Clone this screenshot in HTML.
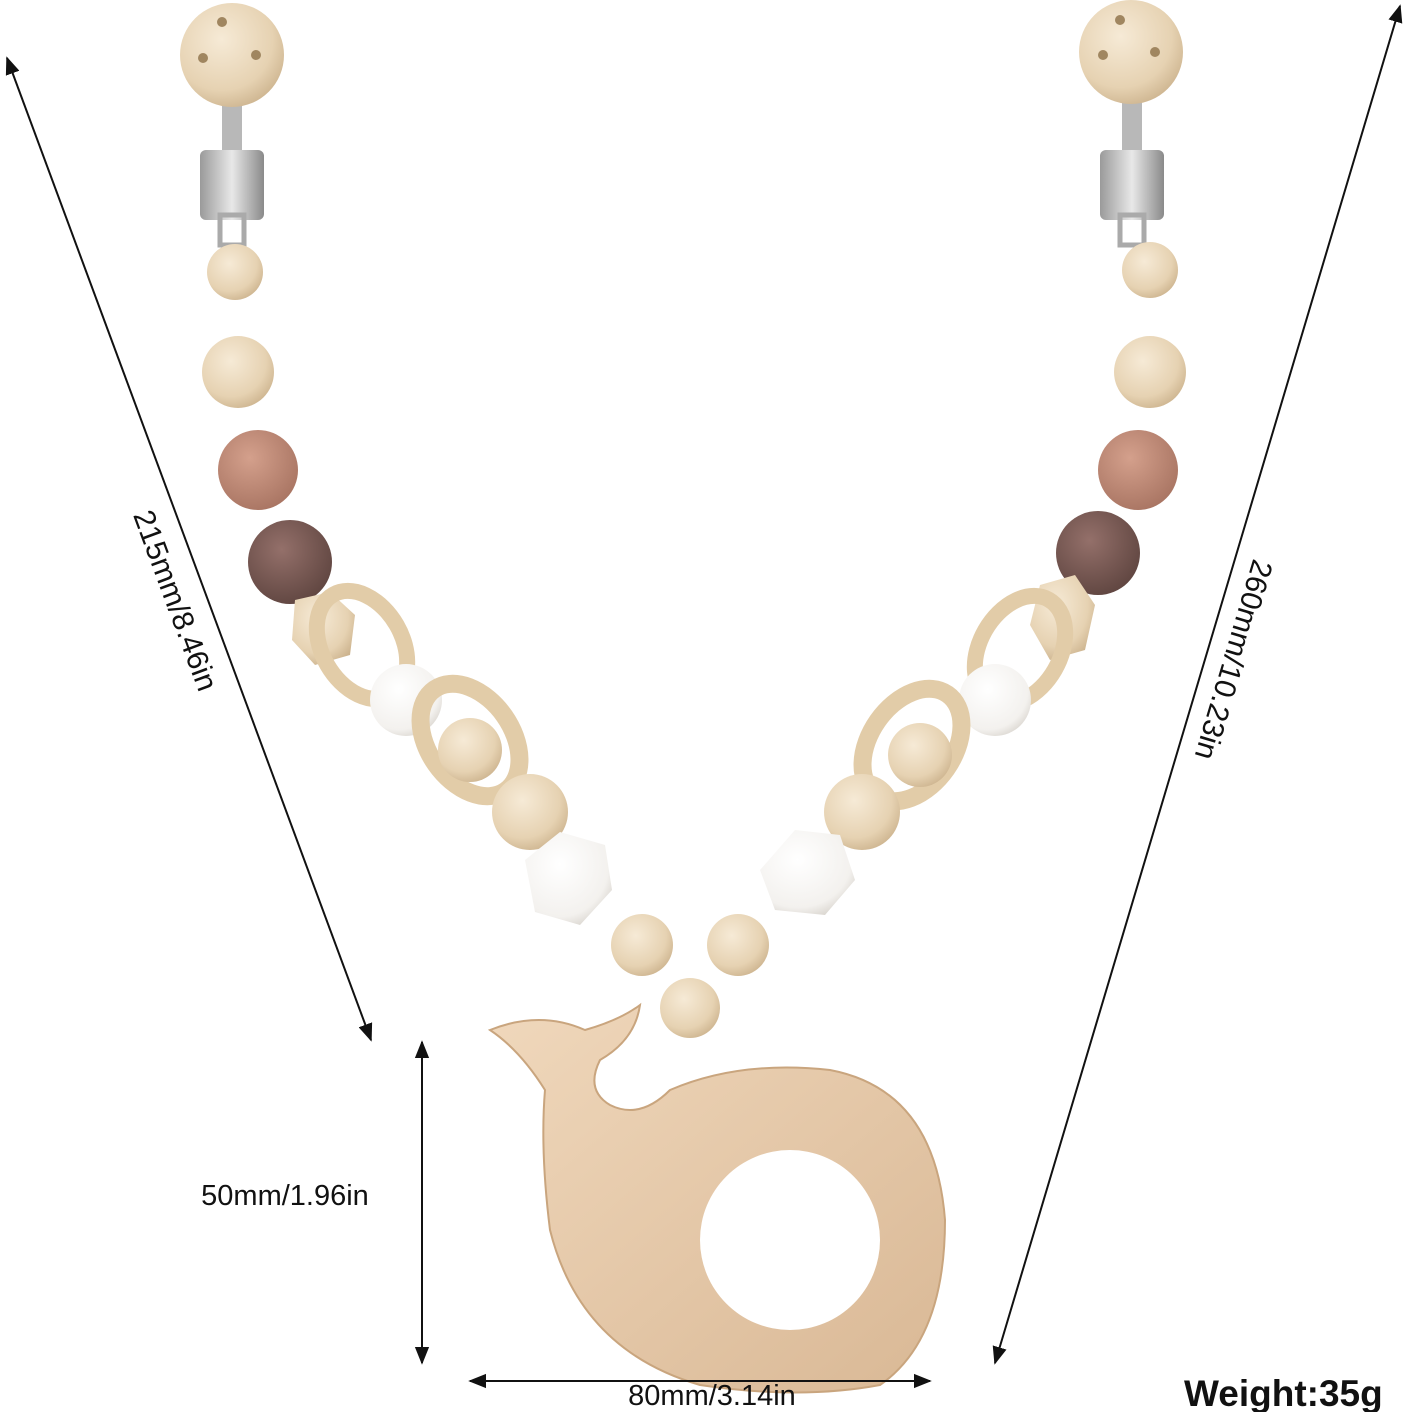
<!DOCTYPE html>
<html><head><meta charset="utf-8"><style>
html,body{margin:0;padding:0;background:#fff;}
svg{display:block;}
text{font-family:"Liberation Sans",sans-serif;fill:#111;}
</style></head><body>
<svg width="1408" height="1412" viewBox="0 0 1408 1412" xmlns="http://www.w3.org/2000/svg">
<defs>
<radialGradient id="wood" cx="40%" cy="35%" r="70%"><stop offset="0" stop-color="#f6ead6"/><stop offset="0.7" stop-color="#e6d2b2"/><stop offset="1" stop-color="#cdb48f"/></radialGradient>
<radialGradient id="white" cx="40%" cy="35%" r="70%"><stop offset="0" stop-color="#ffffff"/><stop offset="0.8" stop-color="#f3f1ee"/><stop offset="1" stop-color="#dcd8d2"/></radialGradient>
<radialGradient id="pink" cx="40%" cy="35%" r="70%"><stop offset="0" stop-color="#d4a08c"/><stop offset="1" stop-color="#a87462"/></radialGradient>
<radialGradient id="brown" cx="40%" cy="35%" r="70%"><stop offset="0" stop-color="#94706a"/><stop offset="1" stop-color="#5f4540"/></radialGradient>
<linearGradient id="metal" x1="0" x2="1"><stop offset="0" stop-color="#9a9a9a"/><stop offset="0.5" stop-color="#e8e8e8"/><stop offset="1" stop-color="#8a8a8a"/></linearGradient>
<linearGradient id="whale" x1="0" y1="0" x2="1" y2="1"><stop offset="0" stop-color="#f0d8bc"/><stop offset="1" stop-color="#d9b895"/></linearGradient>
<marker id="ar" viewBox="0 0 10 10" refX="9" refY="5" markerWidth="9" markerHeight="9" orient="auto-start-reverse"><path d="M0,1 L10,5 L0,9 z" fill="#111"/></marker>
</defs>

<!-- clips -->
<rect x="222" y="100" width="20" height="60" fill="#b8b8b8"/>
<rect x="200" y="150" width="64" height="70" rx="6" fill="url(#metal)"/>
<rect x="220" y="215" width="24" height="30" fill="none" stroke="#aaa" stroke-width="5"/>
<circle cx="232" cy="55" r="52" fill="url(#wood)"/>
<circle cx="222" cy="22" r="5" fill="#a08660"/><circle cx="203" cy="58" r="5" fill="#a08660"/><circle cx="256" cy="55" r="5" fill="#a08660"/>
<rect x="1122" y="100" width="20" height="60" fill="#b8b8b8"/>
<rect x="1100" y="150" width="64" height="70" rx="6" fill="url(#metal)"/>
<rect x="1120" y="215" width="24" height="30" fill="none" stroke="#aaa" stroke-width="5"/>
<circle cx="1131" cy="52" r="52" fill="url(#wood)"/>
<circle cx="1120" cy="20" r="5" fill="#a08660"/><circle cx="1103" cy="55" r="5" fill="#a08660"/><circle cx="1155" cy="52" r="5" fill="#a08660"/>

<!-- left chain -->
<circle cx="235" cy="272" r="28" fill="url(#wood)"/>
<circle cx="238" cy="372" r="36" fill="url(#wood)"/>
<circle cx="258" cy="470" r="40" fill="url(#pink)"/>
<circle cx="290" cy="562" r="42" fill="url(#brown)"/>
<polygon points="295,600 330,592 355,615 350,655 315,665 292,640" fill="url(#wood)"/>
<ellipse cx="362" cy="645" rx="40" ry="58" fill="none" stroke="#e2cca8" stroke-width="16" transform="rotate(-30 362 645)"/>
<circle cx="406" cy="700" r="36" fill="url(#white)"/>
<ellipse cx="470" cy="740" rx="42" ry="62" fill="none" stroke="#e2cca8" stroke-width="18" transform="rotate(-35 470 740)"/>
<circle cx="470" cy="750" r="32" fill="url(#wood)"/>
<circle cx="530" cy="812" r="38" fill="url(#wood)"/>
<polygon points="525,860 560,832 605,845 612,890 580,925 535,912" fill="url(#white)"/>
<circle cx="642" cy="945" r="31" fill="url(#wood)"/>
<!-- right chain -->
<circle cx="1150" cy="270" r="28" fill="url(#wood)"/>
<circle cx="1150" cy="372" r="36" fill="url(#wood)"/>
<circle cx="1138" cy="470" r="40" fill="url(#pink)"/>
<circle cx="1098" cy="553" r="42" fill="url(#brown)"/>
<polygon points="1040,585 1075,575 1095,605 1085,650 1050,660 1030,625" fill="url(#wood)"/>
<ellipse cx="1020" cy="650" rx="40" ry="58" fill="none" stroke="#e2cca8" stroke-width="16" transform="rotate(30 1020 650)"/>
<circle cx="995" cy="700" r="36" fill="url(#white)"/>
<ellipse cx="912" cy="745" rx="42" ry="62" fill="none" stroke="#e2cca8" stroke-width="18" transform="rotate(35 912 745)"/>
<circle cx="920" cy="755" r="32" fill="url(#wood)"/>
<circle cx="862" cy="812" r="38" fill="url(#wood)"/>
<polygon points="760,870 795,830 840,835 855,880 825,915 775,910" fill="url(#white)"/>
<circle cx="738" cy="945" r="31" fill="url(#wood)"/>
<circle cx="690" cy="1008" r="30" fill="url(#wood)"/>

<!-- whale -->
<path d="M490,1030 Q540,1010 585,1030 Q620,1020 640,1005 Q635,1040 600,1060 Q585,1090 610,1105 Q640,1120 670,1090 Q740,1060 830,1070 Q935,1090 945,1220 Q945,1340 880,1385 Q800,1400 700,1385 Q580,1350 550,1230 Q540,1150 545,1090 Q520,1050 490,1030 Z" fill="url(#whale)" stroke="#c9a57e" stroke-width="2"/>
<circle cx="790" cy="1240" r="90" fill="#fff"/>

<!-- dimension lines -->
<g stroke="#111" stroke-width="2" fill="none">
<line x1="7" y1="58" x2="371" y2="1040" marker-start="url(#ar)" marker-end="url(#ar)"/>
<line x1="1400" y1="6" x2="995" y2="1363" marker-start="url(#ar)" marker-end="url(#ar)"/>
<line x1="422" y1="1042" x2="422" y2="1363" marker-start="url(#ar)" marker-end="url(#ar)"/>
<line x1="470" y1="1381" x2="930" y2="1381" marker-start="url(#ar)" marker-end="url(#ar)"/>
</g>
<text x="0" y="0" font-size="30" text-anchor="middle" transform="translate(166,604) rotate(69.6)">215mm/8.46in</text>
<text x="0" y="0" font-size="30" text-anchor="middle" transform="translate(1224,657) rotate(106.6)">260mm/10.23in</text>
<text x="285" y="1205" font-size="29" text-anchor="middle">50mm/1.96in</text>
<text x="712" y="1405" font-size="29" text-anchor="middle">80mm/3.14in</text>
<text x="1184" y="1406" font-size="37" font-weight="bold">Weight:35g</text>
</svg>
</body></html>
